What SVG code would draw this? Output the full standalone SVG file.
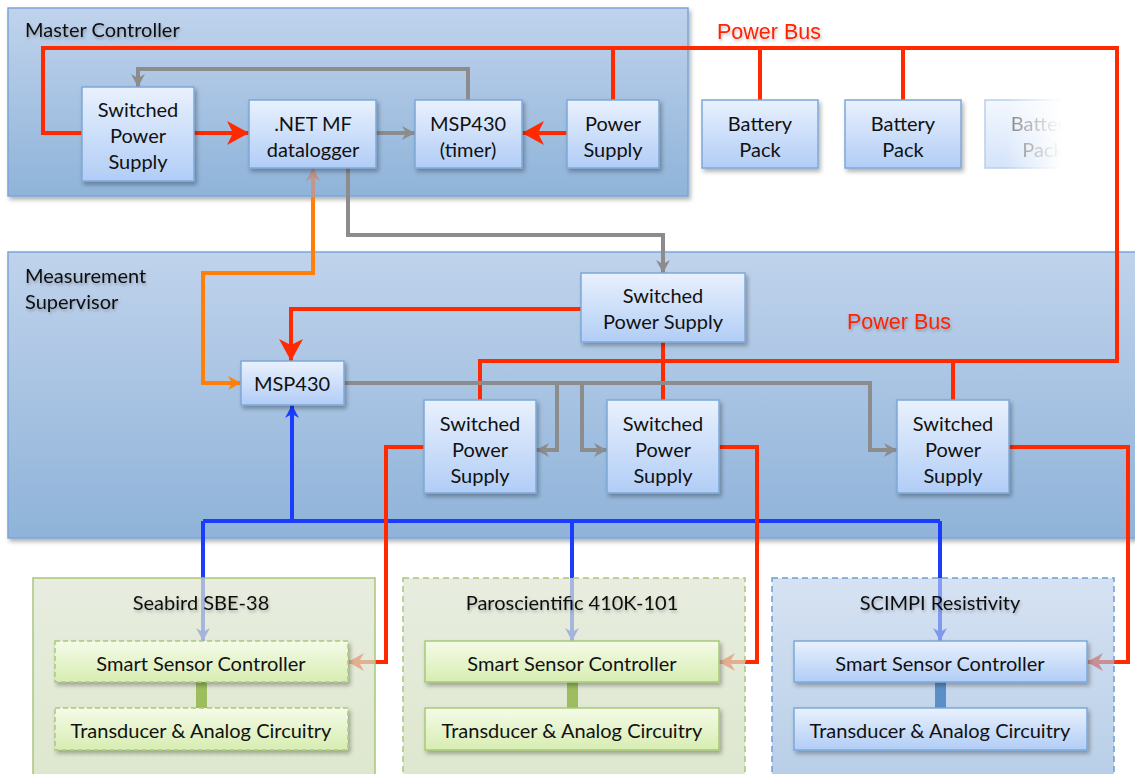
<svg xmlns="http://www.w3.org/2000/svg" width="1135" height="774" viewBox="0 0 1135 774">
<style>
.t{font-family:Lato,"Open Sans","Noto Sans",sans-serif;font-size:20px;fill:#111;text-anchor:middle}
.title{font-family:Lato,"Open Sans","Noto Sans",sans-serif;font-size:20px;fill:#111}
.pb{font-family:"Liberation Sans",Arial,sans-serif;font-size:21.5px;fill:#ff2200}
.node{fill:url(#nodeGrad);stroke:#7ea8d8;stroke-width:1.5}
.gnode{fill:url(#gnodeGrad);stroke:#a9c978;stroke-width:1.5}
.cont{fill:url(#contGrad);stroke:#7aa6d6;stroke-width:1.5}
.red{fill:none;stroke:#ff2a00;stroke-width:4}
.gray{fill:none;stroke:#8c8c8c;stroke-width:4}
.orange{fill:none;stroke:#ff7f0a;stroke-width:4}
.blue{fill:none;stroke:#1a3cff;stroke-width:4}
</style>
<defs>
<linearGradient id="nodeGrad" x1="0" y1="0" x2="0" y2="1"><stop offset="0" stop-color="#e9f1fd"/><stop offset="1" stop-color="#b1cdf6"/></linearGradient>
<linearGradient id="gnodeGrad" x1="0" y1="0" x2="0" y2="1"><stop offset="0" stop-color="#f5fbe8"/><stop offset="1" stop-color="#d7edb2"/></linearGradient>
<linearGradient id="contGrad" x1="0" y1="0" x2="0" y2="1"><stop offset="0" stop-color="#c0d3ec"/><stop offset="1" stop-color="#8fb3d9"/></linearGradient>
<linearGradient id="greenCont" x1="0" y1="0" x2="0" y2="1"><stop offset="0" stop-color="#dfe6d3"/><stop offset="1" stop-color="#d0ddba"/></linearGradient>
<linearGradient id="fadeGrad" gradientUnits="userSpaceOnUse" x1="1005" y1="0" x2="1062" y2="0"><stop offset="0" stop-color="#fff" stop-opacity="0.55"/><stop offset="1" stop-color="#fff" stop-opacity="0"/></linearGradient>
<mask id="fadeMask" maskUnits="userSpaceOnUse" x="970" y="90" width="160" height="100"><rect x="970" y="90" width="160" height="100" fill="url(#fadeGrad)"/></mask>
<filter id="sh" x="-10%" y="-10%" width="130%" height="140%"><feDropShadow dx="2" dy="3" stdDeviation="2" flood-color="#000" flood-opacity="0.3"/></filter>
<filter id="tsh" x="-5%" y="-30%" width="115%" height="180%"><feDropShadow dx="1" dy="2" stdDeviation="1.5" flood-color="#000" flood-opacity="0.25"/></filter>
<marker id="aRedBig" markerUnits="userSpaceOnUse" markerWidth="26" markerHeight="26" viewBox="-22 -13 24 26" refX="0" refY="0" orient="auto"><path d="M-22,-12 L0,0 L-22,12 L-16,0 z" fill="#ff2a00"/></marker>
<marker id="aRed" markerUnits="userSpaceOnUse" markerWidth="20" markerHeight="20" viewBox="-16 -10 18 20" refX="0" refY="0" orient="auto"><path d="M-16,-9 L0,0 L-16,9 L-11,0 z" fill="#ff2a00"/></marker>
<marker id="aGray" markerUnits="userSpaceOnUse" markerWidth="16" markerHeight="16" viewBox="-13 -8 15 16" refX="0" refY="0" orient="auto"><path d="M-13,-7 L0,0 L-13,7 L-9,0 z" fill="#8c8c8c"/></marker>
<marker id="aOrange" markerUnits="userSpaceOnUse" markerWidth="16" markerHeight="16" viewBox="-13 -8 15 16" refX="0" refY="0" orient="auto"><path d="M-13,-7 L0,0 L-13,7 L-9,0 z" fill="#ff7f0a"/></marker>
<marker id="aFade" markerUnits="userSpaceOnUse" markerWidth="16" markerHeight="16" viewBox="-13 -8 15 16" refX="0" refY="0" orient="auto"><path d="M-13,-7 L0,0 L-13,7 L-9,0 z" fill="#b8948c"/></marker>
<marker id="aBlue" markerUnits="userSpaceOnUse" markerWidth="16" markerHeight="16" viewBox="-13 -8 15 16" refX="0" refY="0" orient="auto"><path d="M-13,-7 L0,0 L-13,7 L-9,0 z" fill="#1a3cff"/></marker>
</defs>
<rect width="1135" height="774" fill="#fff"/>

<g id="master-controller">
<rect class="cont" x="8" y="8" width="680" height="188" filter="url(#sh)"/>
<text class="title" x="25" y="37" filter="url(#tsh)">Master Controller</text>
</g>
<g id="measurement-supervisor">
<rect class="cont" x="8" y="252" width="1135" height="286" filter="url(#sh)"/>
<text class="title" x="25" y="283" filter="url(#tsh)">Measurement</text>
<text class="title" x="25" y="309" filter="url(#tsh)">Supervisor</text>
</g>

<g id="connectors">
<path class="red" d="M480,400 L480,361 L1117,361 L1117,48 L43,48 L43,133 L82,133"/>
<path class="red" d="M613,48 L613,100 M760,48 L760,100 M903,48 L903,100 M663,342 L663,400 M953,361 L953,400"/>
<path class="red" d="M194,133 L249,133" marker-end="url(#aRedBig)"/>
<path class="red" d="M567,133 L522,133" marker-end="url(#aRedBig)"/>
<path class="red" d="M581,309 L291,309 L291,361" marker-end="url(#aRedBig)"/>
<path class="gray" d="M376,133 L415,133" marker-end="url(#aGray)"/>
<path class="gray" d="M468,100 L468,69 L138,69 L138,87" marker-end="url(#aGray)"/>
<path class="gray" d="M348,168 L348,235 L663,235 L663,273" marker-end="url(#aGray)"/>
<path class="gray" d="M344,383 L870,383 L870,450 L897,450" marker-end="url(#aGray)"/>
<path class="gray" d="M557,383 L557,450 L536,450" marker-end="url(#aGray)"/>
<path class="gray" d="M582,383 L582,450 L607,450" marker-end="url(#aGray)"/>
<path class="orange" d="M313,196 L313,273 L203,273 L203,383 L241,383" marker-end="url(#aOrange)"/>
<path fill="none" stroke="#c0988a" stroke-width="4" d="M313,197 L313,168" marker-end="url(#aFade)"/>
<path class="blue" d="M203,521 L940,521"/>
<path class="blue" d="M292,521 L292,405" marker-end="url(#aBlue)"/>
<path class="blue" d="M203,521 L203,641" marker-end="url(#aBlue)"/>
<path class="blue" d="M572,521 L572,641" marker-end="url(#aBlue)"/>
<path class="blue" d="M940,521 L940,641" marker-end="url(#aBlue)"/>
<path class="red" d="M424,447 L386,447 L386,662 L348,662" marker-end="url(#aRed)"/>
<path class="red" d="M719,447 L757,447 L757,662 L719,662" marker-end="url(#aRed)"/>
<path class="red" d="M1009,447 L1128,447 L1128,662 L1087,662" marker-end="url(#aRed)"/>
</g>
<text class="pb" x="717" y="39" filter="url(#tsh)">Power Bus</text>
<text class="pb" x="847" y="329" filter="url(#tsh)">Power Bus</text>

<g id="mc-sps">
<rect class="node" x="82" y="87" width="112" height="94" filter="url(#sh)"/>
<text class="t" x="138" y="117">Switched</text><text class="t" x="138" y="143">Power</text><text class="t" x="138" y="169">Supply</text>
</g>
<g id="netmf">
<rect class="node" x="249" y="100" width="127" height="68" filter="url(#sh)"/>
<text class="t" x="313" y="131">.NET MF</text><text class="t" x="313" y="157">datalogger</text>
</g>
<g id="msp430-timer">
<rect class="node" x="415" y="100" width="107" height="68" filter="url(#sh)"/>
<text class="t" x="468" y="131">MSP430</text><text class="t" x="468" y="157">(timer)</text>
</g>
<g id="power-supply">
<rect class="node" x="567" y="100" width="92" height="68" filter="url(#sh)"/>
<text class="t" x="613" y="131">Power</text><text class="t" x="613" y="157">Supply</text>
</g>
<g id="battery1">
<rect class="node" x="702" y="100" width="116" height="68" filter="url(#sh)"/>
<text class="t" x="760" y="131">Battery</text><text class="t" x="760" y="157">Pack</text>
</g>
<g id="battery2">
<rect class="node" x="845" y="100" width="116" height="68" filter="url(#sh)"/>
<text class="t" x="903" y="131">Battery</text><text class="t" x="903" y="157">Pack</text>
</g>
<g id="battery3" mask="url(#fadeMask)">
<rect class="node" x="985" y="100" width="116" height="68"/>
<text class="t" x="1043" y="131">Battery</text><text class="t" x="1043" y="157">Pack</text>
</g>

<g id="ms-sps-top">
<rect class="node" x="581" y="273" width="164" height="69" filter="url(#sh)"/>
<text class="t" x="663" y="303">Switched</text><text class="t" x="663" y="329">Power Supply</text>
</g>
<g id="ms-msp430">
<rect class="node" x="241" y="361" width="103" height="44" filter="url(#sh)"/>
<text class="t" x="292" y="391">MSP430</text>
</g>
<g id="sps1">
<rect class="node" x="424" y="400" width="112" height="93" filter="url(#sh)"/>
<text class="t" x="480" y="431">Switched</text><text class="t" x="480" y="457">Power</text><text class="t" x="480" y="483">Supply</text>
</g>
<g id="sps2">
<rect class="node" x="607" y="400" width="112" height="93" filter="url(#sh)"/>
<text class="t" x="663" y="431">Switched</text><text class="t" x="663" y="457">Power</text><text class="t" x="663" y="483">Supply</text>
</g>
<g id="sps3">
<rect class="node" x="897" y="400" width="112" height="93" filter="url(#sh)"/>
<text class="t" x="953" y="431">Switched</text><text class="t" x="953" y="457">Power</text><text class="t" x="953" y="483">Supply</text>
</g>

<g id="seabird">
<rect x="33" y="578" width="342" height="210" fill="url(#greenCont)" fill-opacity="0.72" stroke="#a9c57e" stroke-width="1.5"/>
<text class="t" x="201" y="610" filter="url(#tsh)">Seabird SBE-38</text>
<rect x="196" y="682" width="11" height="26" fill="#9dbd5e"/>
<rect class="gnode" x="55" y="641" width="293" height="41" stroke-dasharray="5,3" filter="url(#sh)"/>
<text class="t" x="201" y="671">Smart Sensor Controller</text>
<rect class="gnode" x="55" y="708" width="293" height="42" stroke-dasharray="5,3" filter="url(#sh)"/>
<text class="t" x="201" y="738">Transducer &amp; Analog Circuitry</text>
</g>
<g id="paroscientific">
<rect x="403" y="578" width="342" height="210" fill="url(#greenCont)" fill-opacity="0.72" stroke="#a9c57e" stroke-width="1.5" stroke-dasharray="6,4"/>
<text class="t" x="572" y="610" filter="url(#tsh)">Paroscientific 410K-101</text>
<rect x="567" y="682" width="11" height="26" fill="#9dbd5e"/>
<rect class="gnode" x="425" y="641" width="294" height="41" filter="url(#sh)"/>
<text class="t" x="572" y="671">Smart Sensor Controller</text>
<rect class="gnode" x="425" y="708" width="294" height="42" filter="url(#sh)"/>
<text class="t" x="572" y="738">Transducer &amp; Analog Circuitry</text>
</g>
<g id="scimpi">
<rect x="772" y="578" width="342" height="210" fill="url(#contGrad)" fill-opacity="0.65" stroke="#6f9dd2" stroke-width="1.5" stroke-dasharray="6,4"/>
<text class="t" x="940" y="610" filter="url(#tsh)">SCIMPI Resistivity</text>
<rect x="935" y="682" width="11" height="26" fill="#5b8fc8"/>
<rect class="node" x="794" y="641" width="293" height="41" filter="url(#sh)"/>
<text class="t" x="940" y="671">Smart Sensor Controller</text>
<rect class="node" x="794" y="708" width="293" height="42" filter="url(#sh)"/>
<text class="t" x="940" y="738">Transducer &amp; Analog Circuitry</text>
</g>
</svg>
